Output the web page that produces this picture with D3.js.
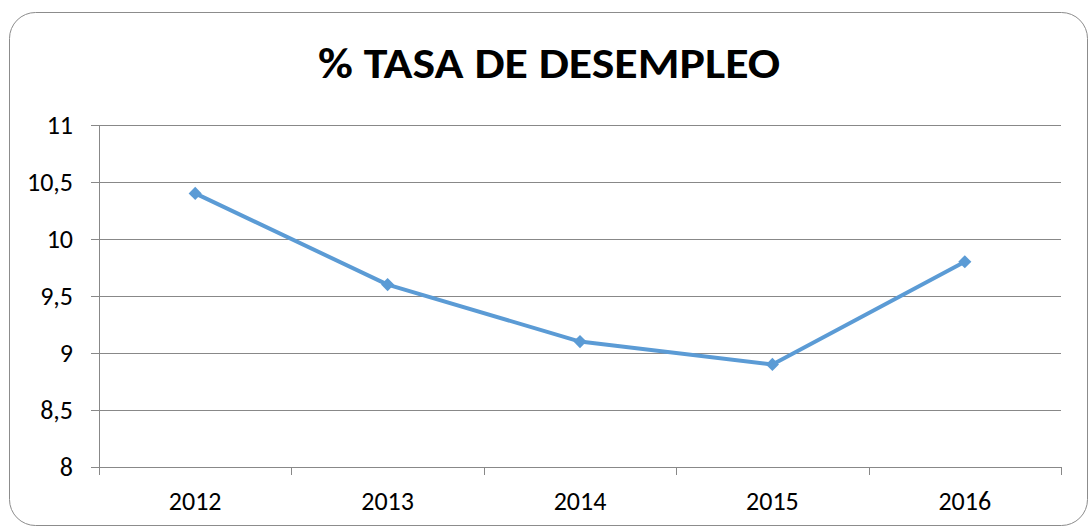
<!DOCTYPE html>
<meta charset="utf-8">
<script src="https://d3js.org/d3.v7.min.js"></script>
<style>
    body { margin: 0; background: #fff; }
    text { font-family: Carlito, Calibri, "Open Sans", sans-serif; }
</style>
<div id="chart"></div>
<script>

    // data
    var years = ["2012", "2013", "2014", "2015", "2016"];
    var rates = [10.4, 9.6, 9.1, 8.9, 9.8];
    var yTicks = [8, 8.5, 9, 9.5, 10, 10.5, 11];
    var title = "% TASA DE DESEMPLEO";

    var W = 1089, H = 527;
    var margin = {top: 125, right: 28, bottom: 60, left: 99},
        width = 1061 - margin.left,
        height = 467 - margin.top;

    var svg = d3.select("#chart").append("svg")
        .attr("width", W)
        .attr("height", H);

    // rounded chart border
    svg.append("rect")
        .attr("x", 9.5).attr("y", 12.5)
        .attr("width", 1078).attr("height", 513)
        .attr("rx", 26).attr("ry", 26)
        .style("fill", "#fff")
        .style("stroke", "#8c8c8c")
        .style("stroke-width", 1);

    svg.append("text")
        .attr("x", 549).attr("y", 78)
        .attr("text-anchor", "middle")
        .attr("textLength", 462)
        .attr("lengthAdjust", "spacingAndGlyphs")
        .style("font-size", "42px")
        .style("font-weight", "bold")
        .text(title);

    var g = svg.append("g")
        .attr("transform", "translate(" + margin.left + "," + margin.top + ")");

    var x = d3.scaleBand().domain(years).range([0, width]);
    var y = d3.scaleLinear().domain([8, 11]).range([height, 0]);

    // horizontal gridlines
    g.append("g")
        .selectAll("line")
        .data(yTicks)
        .enter().append("line")
        .attr("x1", -8).attr("x2", width)
        .attr("y1", function(d) { return Math.round(y(d)) + 0.5; })
        .attr("y2", function(d) { return Math.round(y(d)) + 0.5; })
        .style("stroke", "#888")
        .style("stroke-width", 1);

    // y axis line
    g.append("line")
        .attr("x1", 0.5).attr("x2", 0.5)
        .attr("y1", 0).attr("y2", height + 8)
        .style("stroke", "#888");

    // category ticks
    var bounds = years.map(function(d) { return x(d); }).concat([width]);
    g.append("g")
        .selectAll("line")
        .data(bounds)
        .enter().append("line")
        .attr("x1", function(d) { return Math.round(d) + 0.5; })
        .attr("x2", function(d) { return Math.round(d) + 0.5; })
        .attr("y1", height).attr("y2", height + 8)
        .style("stroke", "#888");

    // y labels
    g.append("g")
        .selectAll("text")
        .data(yTicks)
        .enter().append("text")
        .attr("x", -26)
        .attr("y", function(d) { return y(d); })
        .attr("dy", "0.36em")
        .attr("text-anchor", "end")
        .style("font-size", "26px")
        .style("fill", "#000")
        .text(function(d) { return String(d).replace(".", ","); });

    // x labels
    g.append("g")
        .selectAll("text")
        .data(years)
        .enter().append("text")
        .attr("x", function(d) { return x(d) + x.bandwidth() / 2; })
        .attr("y", height + 43)
        .attr("text-anchor", "middle")
        .style("font-size", "26px")
        .style("fill", "#000")
        .text(function(d) { return d; });

    var pts = years.map(function(d, i) { return {year: d, value: rates[i]}; });

    var line = d3.line()
        .x(function(d) { return x(d.year) + x.bandwidth() / 2; })
        .y(function(d) { return y(d.value); });

    g.append("path")
        .datum(pts)
        .attr("d", line)
        .style("fill", "none")
        .style("stroke", "#5b9bd5")
        .style("stroke-width", 4)
        .style("stroke-linejoin", "round");

    g.append("g")
        .selectAll("path")
        .data(pts)
        .enter().append("path")
        .attr("d", d3.symbol().type(d3.symbolDiamond2).size(110))
        .attr("transform", function(d) {
            return "translate(" + (x(d.year) + x.bandwidth() / 2) + "," + y(d.value) + ")";
        })
        .style("fill", "#5b9bd5");

</script>
